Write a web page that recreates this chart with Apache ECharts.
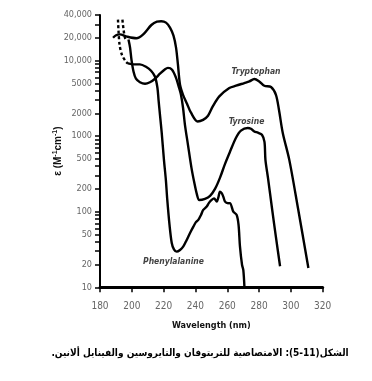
<!DOCTYPE html>
<html><head><meta charset="utf-8">
<script src="https://cdn.jsdelivr.net/npm/echarts@6/dist/echarts.min.js"></script>
<style>html,body{margin:0;padding:0;background:#fff}#c{width:372px;height:381px}</style>
</head><body><div id="c"></div>
<script>
// ---- data (wavelength nm, molar absorptivity) ----
const xTickValues = [180, 200, 220, 240, 260, 280, 300, 320];
const yLabelValues = [10, 20, 50, 100, 200, 500, 1000, 2000, 5000, 10000, 20000, 40000];
const yTickValues = [10,20,30,40,50,60,70,80,90,100,200,300,400,500,600,700,800,900,
  1000,2000,3000,4000,5000,6000,7000,8000,9000,10000,20000,30000,40000];

const trpPoints = [[188.2,20000],[190.1,21600],[192.4,22200],[197,20700],[202.9,19700],[207,22000],
  [212.3,29500],[215.8,32700],[218.5,33100],[221.5,31700],[224,27200],[226.2,21300],[227.8,14800],
  [229,8800],[230.3,4780],[232.2,3520],[234.7,2680],[237.2,2040],[241.4,1560],[244.8,1640],
  [247.9,1860],[250.9,2470],[255,3350],[261.3,4320],[265.5,4640],[270.7,5030],[273.9,5290],
  [277,5690],[280.1,5290],[283.3,4640],[287.5,4460],[290.6,3520],[292.5,2230],[294.9,1100],
  [299,485],[304.5,110],[311,18]];

const tyrDashedPoints = [[194.1,34700],[194.8,25600],[195.7,20000],[196.4,18900]];
const tyrPoints = [[197.9,18900],[198.9,14800],[199.8,10200],[201.1,7100],[202.6,5740],[205.1,5160],
  [208.3,4930],[211.4,5160],[214.6,5740],[217.7,6690],[220.9,7670],[222.7,8000],[225.3,7550],
  [227.8,5900],[229.7,4360],[230.9,3520],[232.2,2370],[233.4,1410],[235.3,767],[237.5,380],
  [239.3,241],[241,167],[242.4,143],[246,148],[249.2,162],[252.3,200],[255.4,280],[258.6,430],
  [261.7,620],[265.5,950],[268.6,1180],[272.9,1280],[274.9,1250],[277,1150],[279.3,1110],
  [281.8,1040],[283.4,840],[284,485],[285.6,280],[288.1,112],[290.6,46],[293.2,19]];

const pheDashedPoints = [[191.3,34700],[191.6,25600],[192.3,16200],[193.8,11900],[196.3,9640],[197.6,9150]];
const phePoints = [[197.6,9150],[200,8950],[202.5,8900],[205.1,8900],[208.9,8280],[212.1,7330],
  [214.6,6100],[216.1,4360],[216.8,3025],[217.7,1915],[218.8,1106],[220.2,485],[221.4,264],
  [222.3,143],[223.7,67],[225.1,38.6],[226.5,31.7],[228.2,29.6],[230.3,31.2],[232.4,34.7],
  [234.5,42.3],[236.6,52.4],[238.7,63.5],[240.4,73.3],[241.8,77.9],[243.5,90.7],[244.9,105.6],
  [247.1,116.8],[248.5,130.8],[250.2,143],[251.7,150],[253.4,136],[254.5,157],[255.4,184.6],
  [256.4,177],[257.5,158.5],[258.6,136],[260.5,129.6],[261.7,130],[263.8,100.3],[265.9,90.7],
  [267.1,66.9],[268,34.5],[269.3,19.7],[270.1,16.9],[270.8,10]];

const curveNames = ['Tryptophan', 'Tyrosine', 'Phenylalanine'];
const curveNameAnchors = [[278.1, 7100], [272.1, 1550], [226.2, 21.6]];

const xTitle = 'Wavelength (nm)';
const caption = 'الشكل(11-5): الامتصاصية للتربتوفان والتايروسين والفينايل ألانين.\u200F';

// ---- chart ----
const narrow = '"Liberation Sans Narrow", "DejaVu Sans Condensed", "Liberation Sans", sans-serif';
const lineStyleSolid = {color: '#000', width: 2.4, type: 'solid'};
const lineStyleDashed = {color: '#000', width: 2.4, type: [3, 2.5]};
function lineSeries(name, data, ls) {
  return {name, type: 'line', data, showSymbol: false, symbol: 'none', smooth: 0.3,
    lineStyle: ls, silent: true, z: 3};
}
function fmt(v) {
  const r = Math.round(v);
  return String(r).length > 4 ? String(r).replace(/\B(?=(\d{3})+(?!\d))/g, ',') : String(r);
}

const chart = echarts.init(document.getElementById('c'), null, {renderer: 'canvas'});
chart.setOption({
  animation: false,
  backgroundColor: '#fff',
  grid: {left: 100, right: 49.3, top: 15, bottom: 93.7, containLabel: false},
  xAxis: {
    type: 'value', min: 180, max: 320, interval: 20,
    axisLine: {show: true, lineStyle: {color: '#000', width: 3}},
    axisTick: {show: true, length: 5, lineStyle: {color: '#000', width: 1.5}, customValues: xTickValues},
    axisLabel: {color: '#666', fontFamily: narrow, fontSize: 10, margin: 14, customValues: xTickValues},
    splitLine: {show: false},
    name: xTitle, nameLocation: 'middle', nameGap: 34, nameMoveOverlap: false,
    nameTextStyle: {color: '#111', fontFamily: narrow, fontWeight: 'bold', fontSize: 9}
  },
  yAxis: {
    type: 'log', logBase: 10, min: 10, max: 40000,
    axisLine: {show: true, lineStyle: {color: '#000', width: 2}},
    axisTick: {show: true, length: 5, lineStyle: {color: '#000', width: 1.5}, customValues: yTickValues},
    axisLabel: {color: '#666', fontFamily: narrow, fontSize: 9, margin: 8, customValues: yLabelValues,
      formatter: fmt},
    splitLine: {show: false},
    minorTick: {show: false},
    name: '{b|ε (M}{s|-1}{b|cm}{s|-1}{b|)}', nameLocation: 'middle', nameGap: 35, nameMoveOverlap: false,
    nameTextStyle: {
      rich: {
        b: {fontFamily: 'Liberation Sans', fontWeight: 'bold', fontSize: 10, color: '#111', lineHeight: 13},
        s: {fontFamily: 'Liberation Sans', fontWeight: 'bold', fontSize: 7, color: '#111', lineHeight: 7, verticalAlign: 'top'}
      }
    }
  },
  series: [
    lineSeries('Tryptophan', trpPoints, lineStyleSolid),
    lineSeries('TyrosineDashed', tyrDashedPoints, lineStyleDashed),
    lineSeries('Tyrosine', tyrPoints, lineStyleSolid),
    lineSeries('PhenylalanineDashed', pheDashedPoints, lineStyleDashed),
    lineSeries('Phenylalanine', phePoints, lineStyleSolid),
    {
      type: 'scatter', data: curveNameAnchors, symbolSize: 0, silent: true, z: 5,
      label: {show: true, position: 'inside', formatter: p => curveNames[p.dataIndex],
        fontFamily: narrow, fontStyle: 'italic', fontWeight: 'bold', fontSize: 8.5, color: '#111'}
    }
  ],
  graphic: [{
    type: 'text', x: 200, y: 353, silent: true,
    style: {text: caption, align: 'center', verticalAlign: 'middle',
      font: 'bold 10px "DejaVu Sans Condensed", "DejaVu Sans"', fill: '#000'}
  }]
});
</script></body></html>
